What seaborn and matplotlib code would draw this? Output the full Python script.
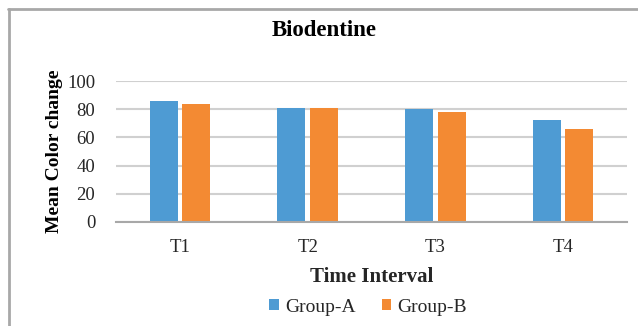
import matplotlib
matplotlib.use("Agg")
import matplotlib.pyplot as plt
from matplotlib.lines import Line2D
import seaborn as sns
import pandas as pd

categories = ["T1", "T2", "T3", "T4"]
group_a = [86, 81, 80, 72]
group_b = [84, 81, 78, 66]
groups = ["Group-A", "Group-B"]
colors = ["#4E9BD3", "#F38A33"]

df = pd.DataFrame({
    "Time Interval": categories * 2,
    "value": group_a + group_b,
    "group": [groups[0]] * 4 + [groups[1]] * 4,
})

sns.set_theme(style="white")
plt.rcParams["font.family"] = ["Liberation Serif", "DejaVu Serif"]

fig = plt.figure(figsize=(6.38, 3.26), dpi=100)
ax = fig.add_axes([116/638, 1-222/326, (627-116)/638, (222-81)/326])

sns.barplot(data=df, x="Time Interval", y="value", hue="group",
            palette=colors, width=0.51, gap=0.14, ax=ax, saturation=1,
            edgecolor="none", linewidth=0, legend=True)

ax.set_ylim(0, 100)
ax.set_yticks([0, 20, 40, 60, 80, 100])
ax.set_xlim(-0.5, 3.5)
ax.yaxis.grid(True, color="#D0D0D0", linewidth=1.5)
ax.set_axisbelow(True)
for s in ["top", "right", "left"]:
    ax.spines[s].set_visible(False)
ax.spines["bottom"].set_color("#A8A8A8")
ax.spines["bottom"].set_linewidth(1.5)
ax.tick_params(axis="both", length=0, labelsize=13.5, colors="#262626")
ax.tick_params(axis="y", pad=15)
ax.tick_params(axis="x", pad=12)

ax.set_xlabel("Time Interval", fontsize=15, fontweight="bold", color="#262626", labelpad=8)
ax.set_ylabel("Mean Color change", fontsize=14, fontweight="bold", color="#000000", labelpad=3)

fig.text(324/638, 1-30/326, "Biodentine", ha="center", va="center",
         fontsize=16.5, fontweight="bold", color="#000000")

leg = ax.legend(loc="center", bbox_to_anchor=(368/638, 1-307/326),
                bbox_transform=fig.transFigure, ncol=2, frameon=False,
                fontsize=14, handlelength=0.5, handleheight=0.5,
                columnspacing=1.35, handletextpad=0.3, borderpad=0)
for t in leg.get_texts():
    t.set_color("#262626")

fig.add_artist(Line2D([8/638, 1], [1-9/326, 1-9/326], color="#A8A8A8", linewidth=2,
                      transform=fig.transFigure))
fig.add_artist(Line2D([9/638, 9/638], [0, 1-9/326], color="#A8A8A8", linewidth=2,
                      transform=fig.transFigure))

fig.savefig("out.png", dpi=100)
